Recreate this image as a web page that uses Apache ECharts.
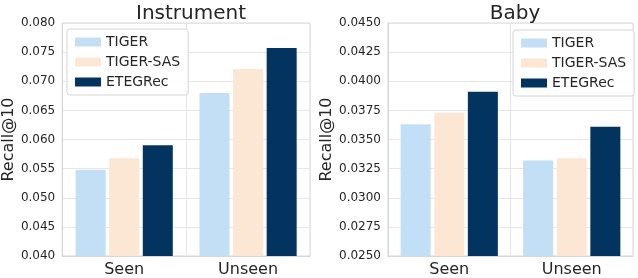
<!DOCTYPE html>
<html>
<head>
<meta charset="utf-8">
<script src="https://cdn.jsdelivr.net/npm/echarts@6/dist/echarts.min.js"></script>
<style>html,body{margin:0;padding:0;background:#fff;}#c{width:638px;height:278px;}</style>
</head>
<body>
<div id="c"></div>
<script>
const categories = ['Seen', 'Unseen'];
const seriesNames = ['TIGER', 'TIGER-SAS', 'ETEGRec'];
const instrumentTIGER = [0.0548, 0.0680];
const instrumentSAS = [0.0568, 0.0721];
const instrumentETEG = [0.0590, 0.0757];
const babyTIGER = [0.0363, 0.0332];
const babySAS = [0.0373, 0.0334];
const babyETEG = [0.0391, 0.0361];
const titles = ['Instrument', 'Baby'];
const yLabel = 'Recall@10';

const colors = ['#c3dff5', '#fce6d4', '#03335f'];
const font = 'DejaVu Sans';
const txt = '#262626';
const gridLine = '#e6e6e6';

const chart = echarts.init(document.getElementById('c'), null, {renderer: 'canvas'});

function xAx(gi) {
  return {
    type: 'category', gridIndex: gi, data: categories,
    axisLine: {show: true, lineStyle: {color: '#d6d6d6'}},
    axisTick: {show: false},
    axisLabel: {color: txt, fontFamily: font, fontSize: 16, margin: 6},
    splitLine: {show: true, lineStyle: {color: gridLine}},
    boundaryGap: true
  };
}
function yAx(gi, min, max, interval, dec, gap) {
  return {
    type: 'value', gridIndex: gi, min: min, max: max, interval: interval,
    name: yLabel, nameLocation: 'middle', nameGap: gap,
    nameTextStyle: {color: txt, fontFamily: font, fontSize: 16},
    axisLine: {show: true, lineStyle: {color: '#d6d6d6'}},
    axisTick: {show: false},
    axisLabel: {color: txt, fontFamily: font, fontSize: 12, margin: 7,
      formatter: v => v.toFixed(dec)},
    splitLine: {show: true, lineStyle: {color: gridLine}}
  };
}
function bars(name, data, idx, gi) {
  return {
    type: 'bar', name: name, data: data, xAxisIndex: gi, yAxisIndex: gi,
    barWidth: 30, barGap: '12%', itemStyle: {color: colors[idx]}
  };
}
function legend(left, top) {
  return {
    data: seriesNames, orient: 'vertical', left: left, top: top,
    itemWidth: 26, itemHeight: 9, itemGap: 6, itemTextGap: 4,
    padding: [6, 8, 6, 8],
    backgroundColor: 'rgba(255,255,255,0.85)', borderColor: '#d6d6d6', borderWidth: 1, borderRadius: 3,
    textStyle: {color: txt, fontFamily: font, fontSize: 14},
    icon: 'rect', selectedMode: false
  };
}

chart.setOption({
  animation: false,
  backgroundColor: '#ffffff',
  title: [
    {text: titles[0], left: 186, top: -1, textAlign: 'center', textStyle: {color: txt, fontFamily: font, fontSize: 20, fontWeight: 'normal'}},
    {text: titles[1], left: 510, top: -1, textAlign: 'center', textStyle: {color: txt, fontFamily: font, fontSize: 20, fontWeight: 'normal'}}
  ],
  grid: [
    {left: 62, right: 328, top: 23, bottom: 21, show: true, borderColor: '#d6d6d6', borderWidth: 1},
    {left: 388, right: 5, top: 23, bottom: 21, show: true, borderColor: '#d6d6d6', borderWidth: 1}
  ],
  legend: [legend(67, 29), legend(513, 30)],
  xAxis: [xAx(0), xAx(1)],
  yAxis: [yAx(0, 0.04, 0.08, 0.005, 3, 44), yAx(1, 0.025, 0.045, 0.0025, 4, 52)],
  series: [
    bars(seriesNames[0], instrumentTIGER, 0, 0),
    bars(seriesNames[1], instrumentSAS, 1, 0),
    bars(seriesNames[2], instrumentETEG, 2, 0),
    bars(seriesNames[0], babyTIGER, 0, 1),
    bars(seriesNames[1], babySAS, 1, 1),
    bars(seriesNames[2], babyETEG, 2, 1)
  ]
});
</script>
</body>
</html>
